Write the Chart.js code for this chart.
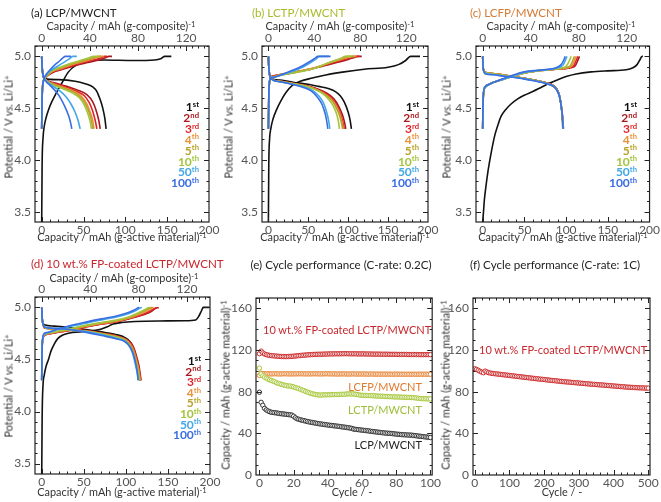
<!DOCTYPE html>
<html>
<head>
<meta charset="utf-8">
<script src="https://cdn.jsdelivr.net/npm/chart.js@4.4.0/dist/chart.umd.min.js"></script>
<style>
  body{margin:0;background:#fff;}
  #wrap{position:relative;width:661px;height:502px;overflow:hidden;font-family:Lato,"Open Sans",sans-serif;}
  #wrap canvas{position:absolute;}
  .t{position:absolute;white-space:nowrap;line-height:1;color:#333;font-size:10.9px;font-weight:400;}
  .t sup{font-size:70%;vertical-align:baseline;position:relative;top:-0.45em;}
  .ttl{font-size:11.6px;}
  .lg{font-weight:bold;font-size:12px;}
  .lg sup{font-size:64%;top:-0.55em;}
  .ann{font-size:11px;}
</style>
</head>
<body>
<div id="wrap"></div>
<script>
/* ======== DATA ======== */
const CYCLE_NUM = ['1','2','3','4','5','10','50','100'];
const CYCLE_SUF = ['st','nd','rd','th','th','th','th','th'];
const CYCLE_COLORS = ['#111111','#a8191f','#e0242a','#e8923a','#b9a22a','#a4c43c','#42a7e6','#3b6ee3'];

const CAP_TICKS = [0,50,100,150,200];
const COMP_TICKS = [0,40,80,120];
const POT_TICKS = [3.5,4.0,4.5,5.0];
const CYC_TICKS_E = [0,20,40,60,80,100];
const CYC_TICKS_F = [0,100,200,300,400,500];
const CAPY_TICKS = [0,40,80,120,160];

// (a) LCP/MWCNT  [capacity, potential]  order: 1st..100th
const aCharge = [
  [[0,3.40],[0.5,3.95],[1.5,4.2],[3,4.32],[5,4.4],[8,4.48],[12,4.56],[17,4.64],[24,4.74],[32,4.85],[42,4.92],[55,4.955],[75,4.965],[110,4.96],[135,4.965],[143,4.98],[147,5.0],[155,5.0]],
  [[0,4.3],[0.5,4.6],[2,4.76],[5,4.8],[12,4.84],[25,4.875],[40,4.91],[55,4.94],[68,4.965],[77,4.99],[80,5.0],[84,5.0]],
  [[0,4.3],[0.5,4.6],[2,4.76],[5,4.8],[12,4.845],[25,4.88],[38,4.915],[52,4.945],[64,4.97],[72,4.99],[75,5.0],[78,5.0]],
  [[0,4.3],[0.5,4.6],[2,4.76],[5,4.8],[12,4.85],[24,4.885],[36,4.92],[50,4.95],[61,4.975],[68,4.995],[70,5.0],[74,5.0]],
  [[0,4.3],[0.5,4.6],[2,4.76],[5,4.805],[12,4.855],[23,4.89],[35,4.925],[48,4.955],[59,4.98],[65,4.995],[67,5.0],[71,5.0]],
  [[0,4.3],[0.5,4.6],[2,4.76],[5,4.81],[12,4.86],[22,4.895],[34,4.93],[46,4.96],[56,4.985],[62,5.0],[68,5.0]],
  [[0,4.3],[0.5,4.6],[2,4.76],[5,4.81],[10,4.86],[18,4.9],[26,4.94],[33,4.975],[37,5.0],[42,5.0]],
  [[0,4.3],[0.5,4.6],[2,4.76],[5,4.82],[10,4.87],[16,4.92],[22,4.96],[26,4.99],[28,5.0],[35,5.0]]
];
const aDischarge = [
  [[0,5.0],[0.5,4.9],[1.5,4.82],[4,4.785],[20,4.775],[40,4.76],[52,4.735],[61,4.705],[66,4.66],[70,4.58],[73,4.5],[75.5,4.4],[77,4.3]],
  [[0,5.0],[0.5,4.9],[1.5,4.82],[4,4.78],[15,4.745],[30,4.71],[44,4.67],[54,4.63],[61,4.56],[65,4.48],[68,4.39],[70,4.3]],
  [[0,5.0],[0.5,4.9],[1.5,4.82],[4,4.78],[15,4.74],[30,4.70],[42,4.66],[51,4.62],[57,4.55],[61,4.47],[64,4.38],[66,4.3]],
  [[0,5.0],[0.5,4.9],[1.5,4.82],[4,4.78],[14,4.735],[28,4.695],[40,4.655],[48,4.61],[54,4.54],[58,4.46],[61,4.38],[62.5,4.3]],
  [[0,5.0],[0.5,4.9],[1.5,4.82],[4,4.78],[14,4.73],[27,4.69],[39,4.65],[47,4.6],[53,4.53],[57,4.45],[59.5,4.38],[61,4.3]],
  [[0,5.0],[0.5,4.9],[1.5,4.82],[4,4.78],[13,4.725],[26,4.685],[37,4.645],[45,4.6],[51,4.53],[55,4.45],[58,4.37],[59.5,4.3]],
  [[0,5.0],[0.5,4.9],[1.5,4.82],[4,4.775],[12,4.72],[21,4.67],[29,4.61],[35,4.54],[40,4.46],[43.5,4.38],[46,4.3]],
  [[0,5.0],[0.5,4.9],[1.5,4.82],[4,4.77],[10,4.72],[17,4.66],[23,4.59],[28,4.51],[32,4.43],[34.5,4.36],[36,4.3]]
];

// (b) LCTP/MWCNT
const bCharge = [
  [[0,3.40],[0.5,3.95],[1.5,4.2],[3,4.3],[6,4.4],[10,4.48],[15,4.56],[22,4.65],[30,4.72],[40,4.76],[55,4.79],[72,4.82],[95,4.85],[120,4.875],[150,4.895],[163,4.92],[172,4.96],[178,5.0],[190,5.0]],
  [[0,4.3],[0.5,4.6],[1.5,4.76],[3,4.8],[6,4.81],[15,4.82],[30,4.84],[50,4.87],[70,4.91],[88,4.945],[100,4.97],[108,4.99],[112,5.0],[117,5.0]],
  [[0,4.3],[0.5,4.6],[1.5,4.76],[3,4.8],[6,4.81],[15,4.825],[30,4.845],[50,4.875],[70,4.915],[86,4.95],[98,4.975],[105,4.99],[109,5.0],[114,5.0]],
  [[0,4.3],[0.5,4.6],[1.5,4.76],[3,4.8],[6,4.805],[15,4.825],[30,4.845],[50,4.875],[68,4.915],[84,4.955],[95,4.98],[102,4.995],[105,5.0],[110,5.0]],
  [[0,4.3],[0.5,4.6],[1.5,4.76],[3,4.795],[6,4.8],[15,4.825],[30,4.845],[50,4.87],[67,4.91],[82,4.955],[93,4.985],[99,5.0],[108,5.0]],
  [[0,4.3],[0.5,4.6],[1.5,4.76],[3,4.79],[8,4.8],[20,4.825],[35,4.845],[51,4.87],[65,4.905],[76,4.94],[86,4.965],[93,4.99],[96,5.0],[104,5.0]],
  [[0,4.3],[0.5,4.6],[1.5,4.76],[3,4.79],[8,4.8],[20,4.83],[32,4.86],[44,4.9],[53,4.94],[60,4.975],[64,5.0],[76,5.0]],
  [[0,4.3],[0.5,4.6],[1.5,4.76],[3,4.79],[8,4.8],[20,4.835],[32,4.87],[43,4.91],[52,4.95],[58,4.98],[62,5.0],[78,5.0]]
];
const bDischarge = [
  [[0,5.0],[0.5,4.9],[1.5,4.82],[4,4.785],[15,4.77],[31,4.75],[50,4.73],[63,4.71],[75,4.69],[84,4.66],[90,4.62],[95,4.56],[100,4.46],[102.5,4.38],[104,4.3]],
  [[0,5.0],[0.5,4.9],[1.5,4.82],[4,4.78],[15,4.76],[30,4.74],[45,4.72],[60,4.69],[72,4.65],[82,4.59],[88,4.52],[93,4.43],[95.5,4.36],[97,4.3]],
  [[0,5.0],[0.5,4.9],[1.5,4.82],[4,4.78],[15,4.76],[30,4.74],[45,4.72],[59,4.69],[71,4.645],[80,4.59],[86,4.52],[91,4.43],[93.5,4.36],[95,4.3]],
  [[0,5.0],[0.5,4.9],[1.5,4.82],[4,4.78],[15,4.76],[30,4.74],[45,4.715],[58,4.685],[70,4.64],[79,4.585],[85,4.52],[90,4.43],[92.5,4.36],[94,4.3]],
  [[0,5.0],[0.5,4.9],[1.5,4.82],[4,4.78],[15,4.76],[30,4.735],[45,4.715],[58,4.685],[69,4.64],[78,4.585],[84,4.52],[89,4.43],[91.5,4.36],[93,4.3]],
  [[0,5.0],[0.5,4.9],[1.5,4.82],[4,4.78],[15,4.755],[30,4.735],[45,4.715],[57,4.685],[68,4.64],[76,4.58],[82,4.51],[86,4.43],[88,4.36],[89,4.3]],
  [[0,5.0],[0.5,4.9],[1.5,4.82],[4,4.78],[15,4.755],[30,4.73],[45,4.705],[55,4.67],[63,4.62],[69,4.55],[73,4.46],[75.5,4.38],[77,4.3]],
  [[0,5.0],[0.5,4.9],[1.5,4.82],[4,4.78],[15,4.755],[30,4.73],[44,4.70],[54,4.665],[61,4.61],[67,4.54],[71,4.45],[73,4.38],[74.5,4.3]]
];

// (c) LCFP/MWCNT
const cCharge = [
  [[0,3.40],[1,3.5],[2,3.61],[4,3.75],[6,3.87],[8,3.97],[10,4.06],[14,4.22],[18,4.33],[22,4.42],[28,4.49],[34,4.54],[42,4.59],[50,4.625],[60,4.66],[70,4.70],[80,4.74],[90,4.775],[100,4.805],[112,4.83],[130,4.85],[150,4.86],[172,4.87],[180,4.89],[185,4.92],[188,4.96],[191,5.0],[192,5.0]],
  [[0,4.3],[0.3,4.5],[1,4.64],[3,4.7],[8,4.73],[15,4.755],[25,4.78],[35,4.805],[50,4.84],[65,4.86],[80,4.87],[95,4.88],[106,4.89],[111,4.91],[114,4.96],[116,5.0]],
  [[0,4.3],[0.3,4.5],[1,4.64],[3,4.7],[8,4.73],[15,4.755],[25,4.78],[35,4.805],[50,4.84],[65,4.86],[80,4.87],[95,4.88],[104,4.89],[109,4.91],[112,4.96],[114,5.0]],
  [[0,4.3],[0.3,4.5],[1,4.64],[3,4.7],[8,4.73],[15,4.755],[25,4.78],[35,4.805],[50,4.84],[65,4.86],[80,4.87],[95,4.882],[102,4.89],[107,4.91],[110,4.96],[112,5.0]],
  [[0,4.3],[0.3,4.5],[1,4.64],[3,4.7],[8,4.73],[15,4.755],[25,4.78],[35,4.805],[50,4.84],[65,4.86],[80,4.87],[94,4.884],[100,4.892],[105,4.91],[108,4.96],[110,5.0]],
  [[0,4.3],[0.3,4.5],[1,4.64],[3,4.7],[8,4.73],[15,4.755],[25,4.78],[35,4.805],[50,4.84],[65,4.86],[80,4.872],[90,4.882],[97,4.892],[101,4.915],[104,4.96],[106,5.0]],
  [[0,4.3],[0.3,4.5],[1,4.65],[3,4.7],[8,4.73],[15,4.755],[25,4.78],[35,4.81],[50,4.845],[65,4.862],[78,4.872],[88,4.885],[94,4.9],[97,4.925],[99.5,4.97],[101,5.0]],
  [[0,4.3],[0.3,4.5],[1,4.65],[3,4.71],[8,4.73],[15,4.755],[25,4.785],[35,4.815],[50,4.85],[65,4.865],[75,4.872],[88,4.89],[94,4.92],[97,4.96],[99,5.0]]
];
const cDischarge = [
  [[0,5.0],[0.5,4.9],[1.5,4.86],[4,4.84],[12,4.83],[25,4.815],[40,4.8],[55,4.78],[68,4.76],[78,4.74],[85,4.715],[89,4.68],[92,4.62],[94,4.53],[95,4.45],[95.7,4.37],[96,4.3]],
  [[0,5.0],[0.5,4.9],[1.5,4.86],[4,4.845],[12,4.835],[25,4.82],[40,4.8],[55,4.78],[68,4.76],[78,4.74],[85,4.715],[89,4.68],[92,4.62],[94,4.53],[95.3,4.45],[96.2,4.37],[96.8,4.3]],
  [[0,5.0],[0.5,4.9],[1.5,4.86],[4,4.845],[12,4.835],[25,4.82],[40,4.8],[55,4.78],[68,4.76],[78,4.74],[85,4.715],[89,4.68],[92,4.62],[94,4.53],[95.3,4.45],[96.1,4.37],[96.7,4.3]],
  [[0,5.0],[0.5,4.9],[1.5,4.86],[4,4.845],[12,4.835],[25,4.82],[40,4.8],[55,4.78],[68,4.76],[78,4.738],[85,4.713],[89,4.678],[92,4.618],[94,4.53],[95.2,4.45],[96,4.37],[96.6,4.3]],
  [[0,5.0],[0.5,4.9],[1.5,4.86],[4,4.843],[12,4.833],[25,4.818],[40,4.8],[55,4.78],[68,4.758],[78,4.737],[85,4.712],[89,4.677],[92,4.617],[94,4.53],[95.2,4.45],[96,4.37],[96.5,4.3]],
  [[0,5.0],[0.5,4.9],[1.5,4.86],[4,4.842],[12,4.832],[25,4.817],[40,4.798],[55,4.778],[68,4.757],[78,4.736],[85,4.711],[89,4.676],[92,4.616],[94,4.53],[95.2,4.45],[96,4.37],[96.5,4.3]],
  [[0,5.0],[0.5,4.9],[1.5,4.855],[4,4.835],[12,4.825],[25,4.81],[40,4.795],[55,4.775],[68,4.755],[78,4.735],[85,4.71],[89,4.675],[92,4.615],[94,4.53],[95.3,4.45],[96,4.37],[96.4,4.3]],
  [[0,5.0],[0.5,4.9],[1.5,4.85],[4,4.83],[12,4.822],[25,4.808],[40,4.793],[55,4.773],[68,4.753],[78,4.733],[85,4.708],[89,4.672],[92,4.612],[94,4.525],[95.2,4.445],[95.9,4.37],[96.3,4.3]]
];

// (d) 10 wt.% FP-coated LCTP/MWCNT
const dCharge = [
  [[0,3.40],[0.5,3.95],[1.5,4.25],[3,4.35],[5,4.43],[8,4.5],[11,4.58],[15,4.65],[19,4.7],[25,4.735],[33,4.755],[45,4.765],[60,4.775],[70,4.79],[78,4.815],[85,4.84],[95,4.855],[111,4.865],[140,4.87],[170,4.872],[183,4.88],[187,4.92],[190,4.97],[192,5.0],[199,5.0]],
  [[0,4.3],[0.3,4.55],[1,4.68],[3,4.73],[8,4.745],[18,4.76],[31,4.775],[50,4.81],[71,4.84],[90,4.865],[103,4.89],[115,4.915],[123,4.935],[130,4.96],[135,4.99],[139,5.0]],
  [[0,4.3],[0.3,4.55],[1,4.68],[3,4.73],[8,4.745],[18,4.76],[31,4.775],[50,4.81],[71,4.84],[90,4.865],[103,4.89],[114,4.915],[122,4.94],[129,4.965],[134,4.99],[137,5.0]],
  [[0,4.3],[0.3,4.55],[1,4.68],[3,4.735],[8,4.75],[18,4.765],[31,4.78],[50,4.815],[71,4.845],[90,4.87],[103,4.895],[113,4.925],[121,4.95],[127,4.975],[131,4.995],[133,5.0]],
  [[0,4.3],[0.3,4.55],[1,4.68],[3,4.735],[8,4.75],[18,4.765],[31,4.785],[50,4.82],[71,4.85],[90,4.875],[103,4.9],[112,4.93],[119,4.955],[125,4.98],[129,4.995],[131,5.0]],
  [[0,4.3],[0.3,4.55],[1,4.68],[3,4.74],[8,4.755],[18,4.77],[31,4.79],[50,4.825],[71,4.855],[90,4.88],[102,4.905],[111,4.935],[118,4.96],[124,4.985],[127,4.997],[129,5.0]],
  [[0,4.3],[0.3,4.55],[1,4.68],[3,4.74],[8,4.76],[18,4.785],[31,4.81],[50,4.845],[71,4.88],[90,4.91],[103,4.94],[112,4.97],[117,4.995],[119,5.0]],
  [[0,4.3],[0.3,4.55],[1,4.7],[3,4.75],[7,4.76],[18,4.79],[31,4.82],[50,4.855],[71,4.89],[90,4.92],[103,4.95],[110,4.975],[114,4.995],[116,5.0]]
];
const dDischarge = [
  [[0,5.0],[0.5,4.9],[1.5,4.85],[4,4.83],[15,4.82],[31,4.81],[50,4.79],[71,4.765],[88,4.74],[99,4.71],[105,4.67],[109,4.61],[112,4.52],[114,4.44],[116,4.36],[117,4.3]],
  [[0,5.0],[0.5,4.9],[1.5,4.84],[4,4.8],[15,4.795],[31,4.79],[50,4.78],[71,4.755],[88,4.73],[99,4.70],[106,4.66],[110,4.6],[113,4.52],[115.5,4.44],[117,4.36],[118,4.3]],
  [[0,5.0],[0.5,4.9],[1.5,4.84],[4,4.8],[15,4.795],[31,4.788],[50,4.778],[71,4.752],[88,4.727],[99,4.697],[105.5,4.657],[109.5,4.6],[112.5,4.52],[115,4.44],[116.5,4.36],[117.5,4.3]],
  [[0,5.0],[0.5,4.9],[1.5,4.84],[4,4.805],[15,4.795],[31,4.785],[50,4.775],[71,4.75],[88,4.722],[99,4.692],[105,4.65],[109,4.59],[112,4.51],[114.5,4.43],[116,4.36],[117,4.3]],
  [[0,5.0],[0.5,4.9],[1.5,4.84],[4,4.805],[15,4.795],[31,4.785],[50,4.773],[71,4.748],[88,4.72],[99,4.69],[104.5,4.645],[108.5,4.585],[111.5,4.5],[114,4.43],[115.5,4.36],[116.5,4.3]],
  [[0,5.0],[0.5,4.9],[1.5,4.84],[4,4.805],[15,4.795],[31,4.785],[50,4.772],[71,4.745],[88,4.715],[99,4.685],[104,4.64],[108,4.58],[111,4.5],[113.5,4.42],[115,4.36],[116,4.3]],
  [[0,5.0],[0.5,4.9],[1.5,4.84],[4,4.81],[15,4.8],[31,4.79],[50,4.77],[71,4.74],[88,4.705],[99,4.675],[104,4.63],[108,4.56],[110.5,4.48],[112.5,4.41],[114,4.35],[115,4.3]],
  [[0,5.0],[0.5,4.9],[1.5,4.84],[4,4.81],[15,4.8],[31,4.79],[50,4.765],[71,4.73],[88,4.7],[99,4.67],[105,4.62],[109,4.55],[112,4.45],[113.5,4.38],[114.5,4.3]]
];

// (e) capacity per cycle, cycles 0..100, C-rate 0.2C
const eFP = [116.5,119.0,117.2,116.2,115.6,115.2,114.9,114.7,114.5,114.3,
  114.2,114.0,113.9,113.8,113.8,113.7,113.7,113.8,113.9,114.0,
  114.1,114.3,114.5,114.6,114.8,115.0,115.1,115.2,115.4,115.5,
  115.6,115.7,115.8,115.9,115.9,116.0,116.0,116.1,116.1,116.2,
  116.2,116.3,116.3,116.3,116.4,116.4,116.4,116.4,116.5,116.5,
  116.5,116.5,116.5,116.4,116.4,116.4,116.4,116.3,116.3,116.3,
  116.3,116.3,116.2,116.2,116.2,116.2,116.1,116.1,116.1,116.1,
  116.1,116.0,116.0,116.0,116.0,116.0,115.9,115.9,115.9,115.9,
  115.9,115.8,115.8,115.8,115.8,115.8,115.8,115.7,115.7,115.7,
  115.7,115.7,115.7,115.6,115.6,115.6,115.6,115.6,115.6,115.6,115.6];
const eLCFP = [95.6,97.8,97.5,97.3,97.2,97.2,97.1,97.1,97.2,97.2,
  97.2,97.1,97.1,97.1,97.2,97.2,97.2,97.1,97.1,97.1,
  97.1,97.1,97.2,97.2,97.2,97.2,97.1,97.1,97.1,97.1,
  97.1,97.2,97.2,97.2,97.1,97.1,97.1,97.1,97.2,97.2,
  97.2,97.1,97.1,97.1,97.1,97.0,97.0,97.1,97.1,97.1,
  97.1,97.0,97.0,97.0,97.1,97.1,97.0,97.0,97.0,97.0,
  97.0,97.0,97.0,96.9,96.9,97.0,97.0,96.9,96.9,96.9,
  96.9,96.9,96.9,96.9,96.9,96.9,96.9,96.8,96.8,96.9,
  96.9,96.9,96.8,96.8,96.8,96.8,96.8,96.8,96.8,96.8,
  96.8,96.8,96.8,96.8,96.8,96.8,96.8,96.8,96.8,96.8,96.8];
const eLCTP = [102.7,97.0,95.2,94.0,93.0,92.1,91.3,90.8,90.1,89.5,
  88.6,88.0,87.6,87.0,86.5,86.1,85.8,85.4,85.5,85.0,
  84.6,84.0,83.5,83.0,82.3,81.6,81.0,80.3,79.6,79.0,
  78.5,78.0,77.6,77.2,77.0,76.8,76.8,76.9,77.0,77.0,
  77.1,77.1,77.2,77.2,77.3,77.3,77.2,77.4,77.5,77.5,
  77.6,77.8,77.9,78.0,77.8,78.0,77.6,77.3,77.0,76.7,
  76.5,76.5,76.4,76.4,76.3,76.3,76.2,76.0,75.9,75.8,
  75.8,75.7,75.6,75.5,75.4,75.4,75.3,75.2,75.1,75.0,
  75.0,74.9,74.9,74.8,74.7,74.7,74.6,74.5,74.5,74.4,
  74.3,74.1,73.9,73.7,73.5,73.4,73.3,73.2,73.2,73.1,73.1];
const eLCP = [79.5,69.8,67.0,64.0,62.5,61.5,60.8,60.2,60.0,59.8,
  59.6,59.3,59.0,58.8,58.6,58.4,58.2,58.0,57.8,57.5,
  56.5,55.0,54.0,53.5,53.0,52.6,52.2,51.8,51.4,51.0,
  50.7,50.4,50.1,49.8,49.5,49.2,49.0,48.7,48.5,48.3,
  48.0,47.8,47.6,47.4,47.2,47.0,46.8,46.6,46.3,46.1,
  45.9,45.6,45.4,45.1,44.8,44.1,43.9,43.7,43.5,43.3,
  43.1,42.9,42.7,42.5,42.3,42.0,41.8,41.6,41.4,41.2,
  41.0,40.8,40.6,40.4,40.2,40.2,40.0,39.9,39.7,39.5,
  39.3,39.1,39.0,38.8,38.7,38.6,38.5,38.4,38.3,38.3,
  38.0,37.8,37.6,37.4,37.2,37.0,36.8,36.6,36.4,36.2,36.0];

// (f) capacity every 5th cycle, cycles 0..500, C-rate 1C
const fFP = [102.0,101.4,100.6,99.6,98.8,98.2,99.8,99.0,98.3,97.9,
  97.6,97.4,97.2,97.0,96.8,96.6,96.4,96.2,96.0,95.8,
  95.6,95.4,95.2,95.0,94.8,94.6,94.4,94.2,94.0,93.8,
  93.6,93.4,93.2,93.0,92.8,92.6,92.4,92.2,92.0,91.9,
  91.7,91.5,91.3,91.1,90.9,90.7,90.6,90.4,90.2,90.0,
  89.9,89.7,89.5,89.4,89.2,89.1,88.9,88.8,88.6,88.5,
  88.3,88.2,88.0,87.9,87.7,87.6,87.4,87.3,87.1,87.0,
  86.9,86.7,86.6,86.5,86.4,86.2,86.1,85.9,85.8,85.6,
  85.5,85.4,85.2,85.1,84.9,84.8,84.7,84.5,84.4,84.3,
  84.2,84.1,84.0,83.9,83.8,83.7,83.7,83.6,83.5,83.5,83.4];
const eCycles = eFP.map((_, i) => i);
const fCycles = fFP.map((_, i) => i * 5);

const COMPOSITE_RATIO = 0.695; // g-composite axis vs g-active axis

/* ======== HELPERS ======== */
const wrap = document.getElementById('wrap');

function range(a, b, step){
  const out = [];
  for(let v = a; v <= b + 1e-9; v += step) out.push(+v.toFixed(4));
  return out;
}

function text(html, x, y, cls, align, color, rotate){
  const d = document.createElement('div');
  d.className = 't ' + (cls||'');
  d.innerHTML = html;
  d.style.left = x + 'px';
  d.style.top = y + 'px';
  if(color) d.style.color = color;
  const tx = align==='r' ? '-100%' : align==='l' ? '0' : '-50%';
  d.style.transform = `translate(${tx},-50%)` + (rotate ? ' rotate(-90deg)' : '');
  wrap.appendChild(d);
  return d;
}

// inward tick marks + frame, drawn through the chart's own scales
const inTicks = {
  id:'inTicks',
  afterDraw(chart, args, opts){
    const {ctx, chartArea:a} = chart;
    ctx.save();
    ctx.strokeStyle = '#222';
    ctx.lineWidth = 1;
    const sides = opts.sides || {};
    Object.keys(sides).forEach(side=>{
      const s = sides[side];
      const sc = chart.scales[s.axis];
      [[s.major,5],[s.minor,2.5]].forEach(([vals,len])=>{
        vals.forEach(v=>{
          const p = Math.round(sc.getPixelForValue(v)) + 0.5;
          ctx.beginPath();
          if(side==='bottom'){ if(p<a.left||p>a.right) return; ctx.moveTo(p,a.bottom); ctx.lineTo(p,a.bottom-len); }
          if(side==='top'){ if(p<a.left||p>a.right) return; ctx.moveTo(p,a.top); ctx.lineTo(p,a.top+len); }
          if(side==='left'){ if(p<a.top||p>a.bottom) return; ctx.moveTo(a.left,p); ctx.lineTo(a.left+len,p); }
          if(side==='right'){ if(p<a.top||p>a.bottom) return; ctx.moveTo(a.right,p); ctx.lineTo(a.right-len,p); }
          ctx.stroke();
        });
      });
    });
    ctx.lineWidth = 1.2;
    ctx.strokeRect(a.left, a.top, a.right-a.left, a.bottom-a.top);
    ctx.restore();
  }
};

function axis(pos, min, max, ticks, size, fmt){
  const horiz = pos==='top' || pos==='bottom';
  return {
    type:'linear', position:pos, min, max,
    grid:{display:false, drawTicks:false},
    border:{display:false},
    ticks:{
      color:'#555', font:{size:12, family:'Lato'}, padding: horiz ? 1 : 4,
      autoSkip:false, maxRotation:0, callback: fmt || (v=>String(v))
    },
    afterBuildTicks: s => { s.ticks = ticks.map(v=>({value:v})); },
    afterFit: s => { if(horiz) s.height = size; else s.width = size; }
  };
}

function makeCanvas(r){
  const c = document.createElement('canvas');
  c.width = r.w; c.height = r.h;
  c.style.left = r.x + 'px'; c.style.top = r.y + 'px';
  c.style.width = r.w + 'px'; c.style.height = r.h + 'px';
  wrap.appendChild(c);
  return c;
}

function baseOptions(r, area, hasTop){
  return {
    responsive:false, animation:false, devicePixelRatio:1,
    layout:{padding:{left:0, right:(r.x+r.w)-area.R, top: hasTop ? 0 : area.T-r.y, bottom:0}},
    plugins:{legend:{display:false}, tooltip:{enabled:false}},
    elements:{line:{cubicInterpolationMode:'monotone'}}
  };
}

/* ======== VOLTAGE PROFILE PANELS (a-d) ======== */
function profilePanel(r, area, charge, discharge){
  const datasets = [];
  // dataset 0 is drawn on top: 100th first, 1st last
  for(let i = CYCLE_NUM.length-1; i >= 0; i--){
    [charge[i], discharge[i]].forEach(curve=>{
      datasets.push({
        data: curve.map(p=>({x:p[0], y:p[1]})),
        showLine:true, borderColor:CYCLE_COLORS[i], borderWidth:1.6,
        pointRadius:0, fill:false
      });
    });
  }
  const opts = baseOptions(r, area, true);
  const capMin = -8, capMax = 200;
  opts.scales = {
    x: axis('bottom', capMin, capMax, CAP_TICKS, (r.y+r.h)-area.B),
    x2: axis('top', capMin*COMPOSITE_RATIO, capMax*COMPOSITE_RATIO, COMP_TICKS, area.T-r.y),
    y: axis('left', 3.4, 5.1, POT_TICKS, area.L-r.x, v=>v.toFixed(1))
  };
  const potMinor = range(3.4, 5.1, 0.1);
  opts.plugins.inTicks = {sides:{
    bottom:{axis:'x', major:CAP_TICKS, minor:range(0,200,10)},
    top:{axis:'x2', major:COMP_TICKS, minor:range(0,140,5)},
    left:{axis:'y', major:POT_TICKS, minor:potMinor},
    right:{axis:'y', major:POT_TICKS, minor:potMinor}
  }};
  new Chart(makeCanvas(r), {type:'scatter', data:{datasets}, options:opts, plugins:[inTicks]});
}

function legendBlock(xRight, yFirst, step){
  CYCLE_NUM.forEach((n,i)=>{
    text(`${n}<sup>${CYCLE_SUF[i]}</sup>`, xRight, yFirst + i*step, 'lg', 'r', CYCLE_COLORS[i]);
  });
}

/* ======== CYCLE PANELS (e-f) ======== */
function cyclePanel(r, area, xMin, xMax, xTicks, xMinor, series){
  const datasets = series.map(s=>({
    data: s.cycles.map((c,i)=>({x:c, y:s.values[i]})),
    showLine:false, pointRadius:2.2, pointBorderWidth:1,
    borderColor:s.color, pointBorderColor:s.color, pointBackgroundColor:'#fff'
  }));
  const opts = baseOptions(r, area, false);
  opts.scales = {
    x: axis('bottom', xMin, xMax, xTicks, (r.y+r.h)-area.B),
    y: axis('left', 0, 170, CAPY_TICKS, area.L-r.x)
  };
  const yMinor = range(0,170,10);
  opts.plugins.inTicks = {sides:{
    bottom:{axis:'x', major:xTicks, minor:xMinor},
    top:{axis:'x', major:xTicks, minor:xMinor},
    left:{axis:'y', major:CAPY_TICKS, minor:yMinor},
    right:{axis:'y', major:CAPY_TICKS, minor:yMinor}
  }};
  new Chart(makeCanvas(r), {type:'scatter', data:{datasets}, options:opts, plugins:[inTicks]});
}

/* ======== BUILD ======== */
Chart.defaults.font.family = 'Lato, "Open Sans", sans-serif';

const POT_TITLE = 'Potential / V <i>vs.</i> Li/Li<sup>+</sup>';
const COMP_TITLE = 'Capacity / mAh (g-composite)<sup>-1</sup>';
const ACT_TITLE = 'Capacity / mAh (g-active material)<sup>-1</sup>';

// (a)
profilePanel({x:0,y:0,w:225,h:250}, {L:35,T:46,R:209,B:222}, aCharge, aDischarge);
text('(a) LCP/MWCNT', 31, 13, 'ttl', 'l', '#222');
text(COMP_TITLE, 121, 26, '', 'c');
text(ACT_TITLE, 122, 237, '', 'c');
text(POT_TITLE, 9, 127, '', 'c', '#333', true);
legendBlock(199, 107, 10.9);

// (b)
profilePanel({x:222,y:0,w:218,h:250}, {L:262,T:46,R:428,B:222}, bCharge, bDischarge);
text('(b) LCTP/MWCNT', 252, 13, 'ttl', 'l', '#a9bb2c');
text(COMP_TITLE, 340, 26, '', 'c');
text(ACT_TITLE, 345, 237, '', 'c');
text(POT_TITLE, 229, 127, '', 'c', '#333', true);
legendBlock(419, 107, 10.9);

// (c)
profilePanel({x:442,y:0,w:219,h:250}, {L:476,T:46,R:651,B:222}, cCharge, cDischarge);
text('(c) LCFP/MWCNT', 470, 13, 'ttl', 'l', '#d37b35');
text(COMP_TITLE, 561, 26, '', 'c');
text(ACT_TITLE, 563, 237, '', 'c');
text(POT_TITLE, 447, 127, '', 'c', '#333', true);
legendBlock(637, 107, 10.9);

// (d)
profilePanel({x:0,y:250,w:225,h:252}, {L:35,T:297,R:210,B:474}, dCharge, dDischarge);
text('(d) 10 wt.% FP-coated LCTP/MWCNT', 31, 264, 'ttl', 'l', '#c8262c');
text(COMP_TITLE, 124, 278, '', 'c');
text(ACT_TITLE, 122, 492, '', 'c');
text(POT_TITLE, 9, 386, '', 'c', '#333', true);
legendBlock(201, 361, 10.6);

// (e)
cyclePanel({x:222,y:250,w:220,h:252}, {L:256,T:298,R:433,B:475}, -2, 101, CYC_TICKS_E, range(0,100,5), [
  {cycles:eCycles, values:eLCP, color:'#333333'},
  {cycles:eCycles, values:eLCTP, color:'#a8c83c'},
  {cycles:eCycles, values:eLCFP, color:'#e8873a'},
  {cycles:eCycles, values:eFP, color:'#cc2a2a'}
]);
text('(e) Cycle performance (C-rate: 0.2C)', 341, 265, 'ttl', 'c', '#222');
text(ACT_TITLE, 226, 385, '', 'c', '#333', true);
text('Cycle / -', 352, 492, '', 'c');
text('10 wt.% FP-coated LCTP/MWCNT', 263, 329, 'ann', 'l', '#c8282d');
text('LCFP/MWCNT', 422, 386, 'ann', 'r', '#e07b30');
text('LCTP/MWCNT', 422, 409, 'ann', 'r', '#9ebe3a');
text('LCP/MWCNT', 422, 444, 'ann', 'r', '#222');

// (f)
cyclePanel({x:442,y:250,w:219,h:252}, {L:473,T:298,R:650,B:475}, -5, 505, CYC_TICKS_F, range(0,500,20), [
  {cycles:fCycles, values:fFP, color:'#cc2a2a'}
]);
text('(f) Cycle performance (C-rate: 1C)', 555, 265, 'ttl', 'c', '#222');
text(ACT_TITLE, 446, 385, '', 'c', '#333', true);
text('Cycle / -', 562, 492, '', 'c');
text('10 wt.% FP-coated LCTP/MWCNT', 479, 349, 'ann', 'l', '#c8282d');
</script>
</body>
</html>
